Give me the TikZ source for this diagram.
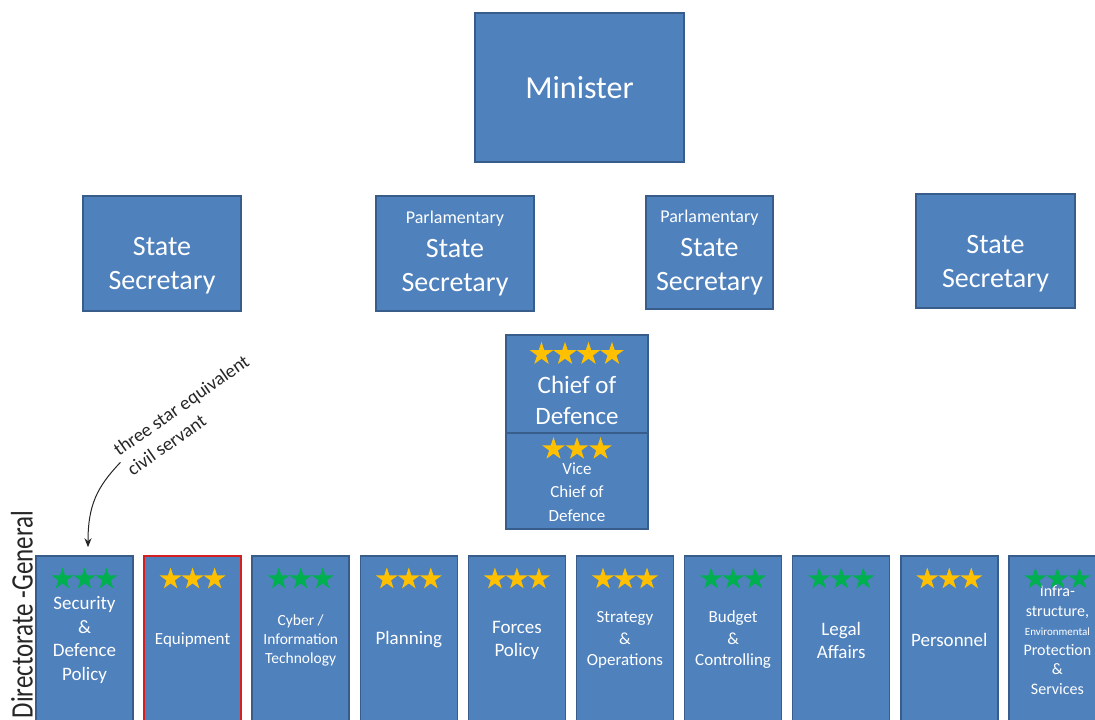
\documentclass[tikz,border=0pt]{standalone}
\usepackage{fontspec}
\setmainfont{Carlito}
\usetikzlibrary{shapes.geometric,arrows.meta}

\definecolor{boxblue}{HTML}{4F81BD}
\definecolor{boxline}{HTML}{385D8A}
\definecolor{rankgold}{HTML}{FFC000}
\definecolor{rankgreen}{HTML}{00B050}
\definecolor{eqred}{HTML}{D42020}
\definecolor{notegray}{HTML}{262626}

\newcommand{\fsz}[2]{\fontsize{#1}{#2}\selectfont}

\tikzset{
    orgbox/.style={draw=boxline, fill=boxblue, line width=1.5pt, text=white, align=center, inner sep=0pt},
    boxtext/.style={text=white, align=center, inner sep=0pt},
    rankstar/.style={star, star points=5, star point ratio=2.6, minimum size=#1, inner sep=0pt, draw=none},
    dgbox/.style={orgbox, minimum width=97pt, minimum height=168pt},
    dgred/.style={dgbox, draw=eqred, line width=2pt},
}

\begin{document}
\begin{tikzpicture}[x=1pt,y=1pt]
    \useasboundingbox (0,0) rectangle (1095,-720);
    \clip (0,0) rectangle (1095,-720);
    % ministry
    \node[orgbox, minimum width=209pt, minimum height=149pt, font=\fsz{32}{38}] (minister) at (579.5,-87.5) {Minister};
    \node[orgbox, minimum width=158pt, minimum height=115pt,
        label={[boxtext, font=\fsz{28}{34}, yshift=-12.5pt]center:State\\Secretary}] (stsec1) at (162,-253.5) {};
    \node[orgbox, minimum width=158pt, minimum height=115pt, font=\fsz{28}{34}] (pstsec1) at (455,-253.5)
        {{\fsz{18}{22}Parlamentary}\\State\\Secretary};
    \node[orgbox, minimum width=127pt, minimum height=113pt, font=\fsz{28}{34}] (pstsec2) at (709.5,-252.5)
        {{\fsz{18}{22}Parlamentary}\\State\\Secretary};
    \node[orgbox, minimum width=159pt, minimum height=114pt,
        label={[boxtext, font=\fsz{28}{34}, yshift=-13pt]center:State\\Secretary}] (stsec2) at (995.5,-251) {};
    % chiefs
    \node[orgbox, minimum width=142pt, minimum height=98pt,
        label={[boxtext, font=\fsz{25}{31}, yshift=-16pt]center:Chief of\\Defence}] (chod) at (577,-384) {};
    \node[orgbox, minimum width=142pt, minimum height=96pt,
        label={[boxtext, font=\fsz{17}{23.5}, yshift=-11pt]center:Vice\\Chief of\\Defence}] (vchod) at (577,-481) {};
    \foreach \k in {0,...,3}
        \node[rankstar=24.5pt, fill=rankgold] (chod-s\k) at (541.5+23.5*\k,-354) {};
    \foreach \k in {0,...,2}
        \node[rankstar=24pt, fill=rankgold] (vchod-s\k) at (553.5+23.5*\k,-449) {};
    % directorates-general
    \foreach \i/\id/\look/\rank/\tsz/\tsk/\txt in {
        0/secpol/dgbox/rankgreen/19/23.5/{Security\\\&\\Defence\\Policy},
        1/equip/dgred/rankgold/17/21/{Equipment},
        2/cyber/dgbox/rankgreen/15.5/19/{Cyber /\\Information\\Technology},
        3/plan/dgbox/rankgold/19/23/{Planning},
        4/forpol/dgbox/rankgold/19/23/{Forces\\Policy},
        5/stratop/dgbox/rankgold/17/21.5/{Strategy\\\&\\Operations},
        6/budget/dgbox/rankgreen/17/21.5/{Budget\\\&\\Controlling},
        7/legal/dgbox/rankgreen/19/23/{Legal\\Affairs},
        8/person/dgbox/rankgold/19/23/{Personnel},
        9/infra/dgbox/rankgreen/16/19.5/{Infra-\\structure,\\{\fsz{11}{19.5}Environmental}\\Protection\\\&\\Services}}
    {
        \node[\look, font=\fsz{\tsz}{\tsk}] (\id) at (84.5+108.1*\i,-640) {\txt};
        \foreach \k in {0,1,2}
            \node[rankstar=23pt, fill=\rank] (\id-s\k) at (62.5+108.1*\i+22*\k,-579) {};
    }
    \node[rotate=90, yscale=1.25, text=notegray, font=\fsz{25}{30}] (dgtitle) at (22,-614.5) {Directorate -General};
    % annotation
    \node[rotate=35, align=left, text=notegray, font=\fsz{19}{24}, inner sep=2pt] (note) at (188,-415)
        {three star equivalent\\civil servant};
    \draw[-{Stealth[length=9pt,width=7pt]}, line width=1pt, notegray] (note.west)
        .. controls (97,-487) and (88,-505) .. ([xshift=3.5pt,yshift=8pt]secpol.north);
\end{tikzpicture}
\end{document}
